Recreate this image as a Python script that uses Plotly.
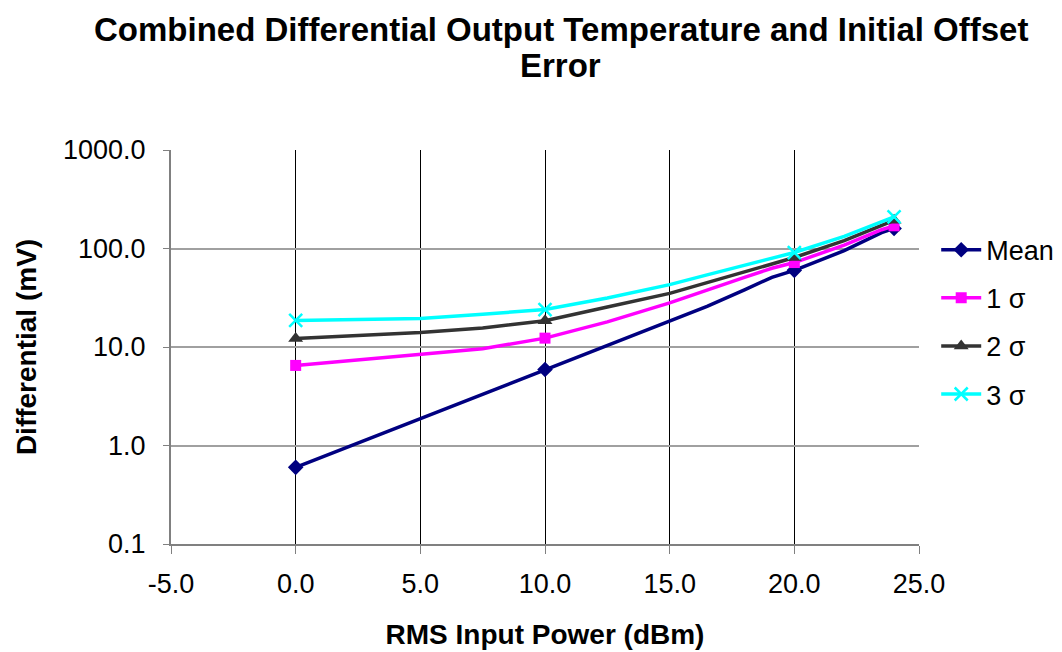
import plotly.graph_objects as go

# ---- data ----
power_dbm = [0, 2.5, 5, 7.5, 10, 12.5, 15, 16.5, 18, 19.1, 20, 22, 23.5, 24]
mean_mv = [0.6, 1.06, 1.88, 3.33, 5.9, 10.5, 18.2, 25.8, 38, 51, 60, 95, 145, 160]
sigma1_mv = [6.5, 7.4, 8.4, 9.6, 12.3, 18, 28, 38, 51, 63, 72, 108, 155, 170]
sigma2_mv = [12.2, 13.1, 14, 15.6, 18.5, 25.5, 35, 45, 58, 70, 81, 120, 170, 193]
sigma3_mv = [18.6, 19, 19.5, 21.5, 24, 31.5, 43, 54, 67, 79.5, 91, 133, 185, 210]
marker_idx = [0, 4, 10, 13]  # points drawn with a marker (0, 10, 20, 24 dBm)

series_names = ["Mean", "1 σ", "2 σ", "3 σ"]
y_tick_vals = [0.1, 1, 10, 100, 1000]
y_tick_text = ["0.1", "1.0", "10.0", "100.0", "1000.0"]
x_tick_vals = [-5, 0, 5, 10, 15, 20, 25]
x_tick_text = ["-5.0", "0.0", "5.0", "10.0", "15.0", "20.0", "25.0"]
title_lines = ["Combined Differential Output Temperature and Initial Offset", "Error"]

colors = ["#000080", "#FF00FF", "#333333", "#00FFFF"]
symbols = ["diamond", "square", "triangle-up", "x-thin"]
msizes = [12, 11, 13, 13]

FONT = "Liberation Sans, Arial, sans-serif"

fig = go.Figure()
for name, ys, col, sym, ms in zip(series_names, [mean_mv, sigma1_mv, sigma2_mv, sigma3_mv],
                                  colors, symbols, msizes):
    fig.add_trace(go.Scatter(x=power_dbm, y=ys, mode="lines", line=dict(color=col, width=3.5),
                             legendgroup=name, showlegend=False, hoverinfo="skip"))
    mx, my = [], []
    for i in marker_idx:
        mx += [power_dbm[i], None]
        my += [ys[i], None]
    mline = dict(color=col, width=2.5) if sym == "x-thin" else dict(width=0)
    fig.add_trace(go.Scatter(x=mx, y=my, mode="lines+markers", name=name, legendgroup=name,
                             connectgaps=False, line=dict(color=col, width=3.5),
                             marker=dict(symbol=sym, size=ms, color=col, line=mline)))

# white box behind legend hiding gridlines
fig.add_shape(type="rect", xref="paper", yref="paper", x0=0.957, x1=1.19, y0=0.315, y1=0.805,
              fillcolor="white", line=dict(width=0), layer="between")

# title lines as annotations for exact placement
for txt, ypos in zip(title_lines, [1.3046, 1.2132]):
    fig.add_annotation(text=f"<b>{txt}</b>", xref="paper", yref="paper", x=0.521, y=ypos,
                       xanchor="center", yanchor="middle", showarrow=False,
                       font=dict(size=33, family=FONT, color="black"))

fig.update_layout(
    width=1062, height=652,
    margin=dict(l=171, r=143, t=150, b=108, autoexpand=False),
    paper_bgcolor="white", plot_bgcolor="white",
    font=dict(family=FONT, size=27, color="black"),
    legend=dict(x=1.023, xanchor="left", y=0.808, yanchor="top", bgcolor="rgba(0,0,0,0)",
                font=dict(size=27), tracegroupgap=10, traceorder="grouped", itemwidth=40),
    showlegend=True,
)
fig.update_xaxes(range=[-5, 25], tickvals=x_tick_vals, ticktext=x_tick_text,
                 showgrid=True, gridcolor="black", gridwidth=1,
                 showline=True, linecolor="#808080", linewidth=2,
                 ticks="outside", ticklen=8, tickcolor="#808080", ticklabelstandoff=7,
                 zeroline=False,
                 title=dict(text="<b>RMS Input Power (dBm)</b>", font=dict(size=28), standoff=26))
fig.update_yaxes(type="log", range=[-1, 3], tickvals=y_tick_vals, ticktext=y_tick_text,
                 showgrid=True, gridcolor="#A0A0A0", gridwidth=1.5,
                 showline=True, linecolor="#808080", linewidth=2,
                 ticks="outside", ticklen=6, tickcolor="#808080", ticklabelstandoff=12,
                 zeroline=False,
                 title=dict(text="<b>Differential (mV)</b>", font=dict(size=28), standoff=18))

fig.write_html("out.html")
